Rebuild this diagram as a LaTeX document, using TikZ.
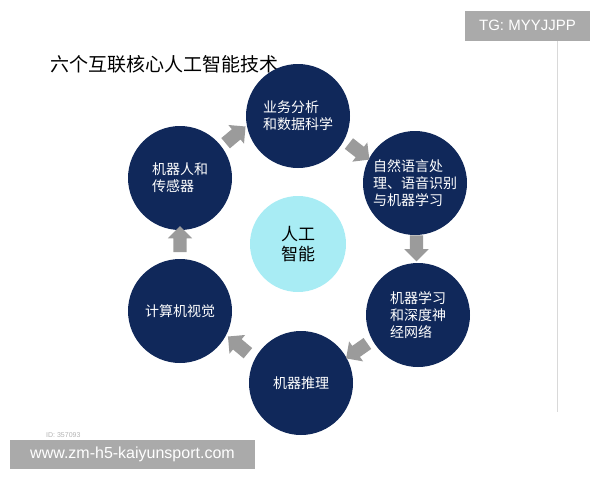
\documentclass[tikz,border=0pt]{standalone}
\usepackage{fontspec}
\setmainfont{Liberation Sans}
\newfontfamily\cjk{Noto Sans CJK SC}
\usepackage{xcolor}
\usetikzlibrary{
    shapes.arrows,
    calc,
    positioning
}
\definecolor{navy}{RGB}{16,40,90}
\definecolor{aicyan}{RGB}{168,236,244}
\definecolor{arrowgray}{RGB}{155,155,155}
\definecolor{taggray}{RGB}{170,170,170}

\begin{document}
\begin{tikzpicture}[x=1pt, y=-1pt,
    tech/.style={circle, fill=navy, minimum size=104pt, inner sep=0pt, text=white, align=left, font=\cjk\fontsize{14}{17}\selectfont},
    core/.style={circle, fill=aicyan, minimum size=96pt, inner sep=0pt, align=center, font=\cjk\fontsize{17}{20}\selectfont},
    flow/.style={single arrow, fill=arrowgray, minimum height=26pt, inner sep=6.5pt, single arrow head extend=5.5pt},
    tag/.style={fill=taggray, text=white, inner sep=0pt, font=\fontsize{15}{15}\selectfont}]
                        \useasboundingbox (0, 0) rectangle (600, 480);
                        \draw[black!15, line width=0.8pt] (557, 40) -- (557, 412);

                        \node[tag, minimum width=125pt, minimum height=30pt] (tg) at (527.5, 25.5) {TG: MYYJJPP};
                        \node[anchor=west, inner sep=0pt, font=\cjk\fontsize{19}{19}\selectfont] (title) at (50, 64) {六个互联核心人工智能技术};

                        \node[core] (ai) at (298, 244) {人工\\智能};
                        \node[tech] (biz) at (298, 116) {业务分析\\和数据科学};
                        \node[tech] (nlp) at (415, 183) {自然语言处\\理、语音识别\\与机器学习};
                        \node[tech] (dl) at (418, 315) {机器学习\\和深度神\\经网络};
                        \node[tech] (reason) at (301, 383) {机器推理};
                        \node[tech] (vision) at (180, 311) {计算机视觉};
                        \node[tech] (robot) at (180, 178) {机器人和\\传感器};

                        \node[flow, rotate=40] (a1) at ($(robot)!0.5!(biz) + (-6, -10)$) {};
                        \node[flow, rotate=-38] (a2) at ($(biz)!0.5!(nlp)$) {};
                        \node[flow, rotate=-90] (a3) at ($(nlp)!0.5!(dl) + (0, -4)$) {};
                        \node[flow, rotate=-145] (a4) at ($(dl)!0.5!(reason)$) {};
                        \node[flow, rotate=140] (a5) at ($(reason)!0.5!(vision)$) {};
                        \node[flow, rotate=90] (a6) at ($(vision)!0.5!(robot) + (0, -2)$) {};

                        \node[anchor=west, inner sep=0pt, text=black!30, font=\fontsize{7}{7}\selectfont] (id) at (46, 435) {ID: 357093};
                        \node[tag, minimum width=245pt, minimum height=29pt, font=\fontsize{16}{16}\selectfont] (site) at (132.5, 454.5) {www.zm-h5-kaiyunsport.com};
                    \end{tikzpicture}
\end{document}
